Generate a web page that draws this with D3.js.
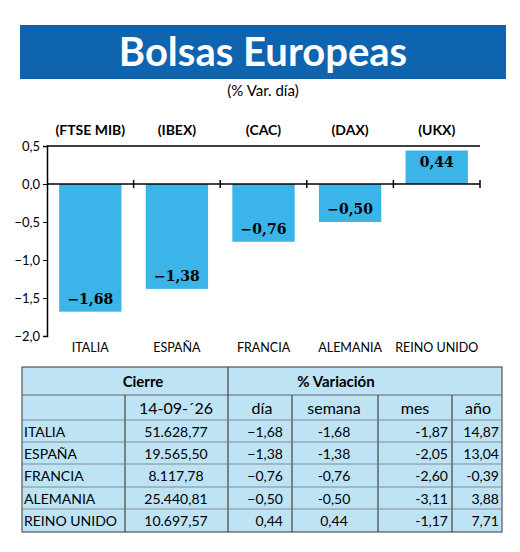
<!DOCTYPE html>
<html><head><meta charset="utf-8">
<script src="https://cdn.jsdelivr.net/npm/d3@7"></script>
<style>body{margin:0;background:#fff}</style>
</head><body>
<svg id="graph" width="520" height="552"></svg>
<script>
'use strict'

var countries = ['ITALIA','ESPAÑA','FRANCIA','ALEMANIA','REINO UNIDO'];
var indices = ['(FTSE MIB)','(IBEX)','(CAC)','(DAX)','(UKX)'];
var dayVar = [-1.68,-1.38,-0.76,-0.50,0.44];
var yTicks = [0.5,0,-0.5,-1,-1.5,-2];
var cierre = ['51.628,77','19.565,50','8.117,78','25.440,81','10.697,57'];
var semana = ['-1,68','-1,38','-0,76','-0,50','0,44'];
var mes = ['-1,87','-2,05','-2,60','-3,11','-1,17'];
var anio = ['14,87','13,04','-0,39','3,88','7,71'];
var colHeads = ['','14-09-´26','día','semana','mes','año'];

var fmt = function(v){ return d3.format('.2f')(v).replace('.',','); };
var fmt1 = function(v){ return d3.format('.1f')(v).replace('.',','); };
var font = 'Lato, "Open Sans", sans-serif';

var svg = d3.select('#graph');

// title
svg.append('rect').attr('x',20).attr('y',25).attr('width',486).attr('height',54).attr('fill','#0e64ae');
svg.append('text').attr('x',263).attr('y',66).attr('text-anchor','middle').attr('fill','#fff')
	.attr('font-family',font).attr('font-weight','bold').attr('font-size',40).text('Bolsas Europeas');
svg.append('text').attr('x',263).attr('y',96).attr('text-anchor','middle')
	.attr('font-family',font).attr('font-size',15).text('(% Var. día)');

// chart
var x = d3.scaleBand().domain(countries).range([47,480]).paddingInner(0.28).paddingOuter(0.14);
var y = d3.scaleLinear().domain([-2,0.5]).range([336,146]);

svg.append('g').attr('transform','translate(47,0)')
	.call(d3.axisLeft(y).tickValues(yTicks).tickFormat(fmt1).tickSize(4))
	.call(function(g){
		g.selectAll('text').attr('font-family',font).attr('font-size',13).attr('fill','#000');
		g.select('.domain').attr('stroke','#000').attr('stroke-width',1.5);
	});
svg.append('line').attr('x1',47).attr('x2',480).attr('y1',y(0.5)).attr('y2',y(0.5)).attr('stroke','#000').attr('stroke-width',1.5);

svg.selectAll('.bar').data(dayVar).enter().append('rect')
	.attr('x',function(d,i){return x(countries[i]);})
	.attr('y',function(d){return y(Math.max(0,d));})
	.attr('width',x.bandwidth())
	.attr('height',function(d){return Math.abs(y(d)-y(0));})
	.attr('fill','#3bb4e9');

svg.append('line').attr('x1',47).attr('x2',480).attr('y1',y(0)).attr('y2',y(0)).attr('stroke','#000').attr('stroke-width',1.5);
var step = 433/5;
for(var c = 1;c<=5;c++){
	svg.append('line').attr('x1',47+step*c).attr('x2',47+step*c).attr('y1',y(0)-4).attr('y2',y(0)+4).attr('stroke','#000').attr('stroke-width',1.5);
}

svg.selectAll('.val').data(dayVar).enter().append('text')
	.attr('x',function(d,i){return x(countries[i])+x.bandwidth()/2;})
	.attr('y',function(d){return d<0 ? y(d)-8 : y(d)+16;})
	.attr('text-anchor','middle').attr('font-family','"DejaVu Serif", serif').attr('font-weight','bold').attr('font-size',14)
	.text(function(d){return fmt(d);});

svg.selectAll('.idx').data(indices).enter().append('text')
	.attr('x',function(d,i){return x(countries[i])+x.bandwidth()/2;}).attr('y',135)
	.attr('text-anchor','middle').attr('font-family',font).attr('font-weight','bold').attr('font-size',14).text(function(d){return d;});
svg.selectAll('.cty').data(countries).enter().append('text')
	.attr('x',function(d){return x(d)+x.bandwidth()/2;}).attr('y',352)
	.attr('text-anchor','middle').attr('font-family',font).attr('font-size',12.5).text(function(d){return d;});

// table
var tx = [22,125,228,292,378,452,502];
var ty = [367,395,420,442,464,487,509,532];
svg.append('rect').attr('x',22).attr('y',367).attr('width',480).attr('height',165).attr('fill','#bde3f5').attr('stroke','#555').attr('stroke-width',1.2);
svg.append('line').attr('x1',22).attr('x2',502).attr('y1',395).attr('y2',395).attr('stroke','#666');
svg.append('line').attr('x1',228).attr('x2',228).attr('y1',367).attr('y2',532).attr('stroke','#444').attr('stroke-width',1.2);
[125,292,378,452].forEach(function(v){
	svg.append('line').attr('x1',v).attr('x2',v).attr('y1',395).attr('y2',532).attr('stroke','#444').attr('stroke-width',1.2);
});
for(var r = 2;r<7;r++){
	svg.append('line').attr('x1',22).attr('x2',502).attr('y1',ty[r]).attr('y2',ty[r]).attr('stroke','#777').attr('stroke-width',0.8);
}
svg.append('text').attr('x',143).attr('y',387).attr('text-anchor','middle').attr('font-family',font).attr('font-weight','bold').attr('font-size',15).text('Cierre');
svg.append('text').attr('x',336).attr('y',387).attr('text-anchor','middle').attr('font-family',font).attr('font-weight','bold').attr('font-size',15).text('% Variación');
var headX = [0,176,262,334,415,478];
colHeads.forEach(function(h,i){
	svg.append('text').attr('x',headX[i]).attr('y',414).attr('text-anchor','middle').attr('font-family',font).attr('font-size',16).text(h);
});
var cols = [countries, cierre, dayVar.map(fmt), semana, mes, anio];
var colX = [24,176,283,334,448,499];
var anchors = ['start','middle','end','middle','end','end'];
cols.forEach(function(col,ci){
	col.forEach(function(v,ri){
		svg.append('text').attr('x',colX[ci]).attr('y',ty[ri+2]+17).attr('text-anchor',anchors[ci])
			.attr('font-family',font).attr('font-size',14).text(v);
	});
});
</script>
</body></html>
